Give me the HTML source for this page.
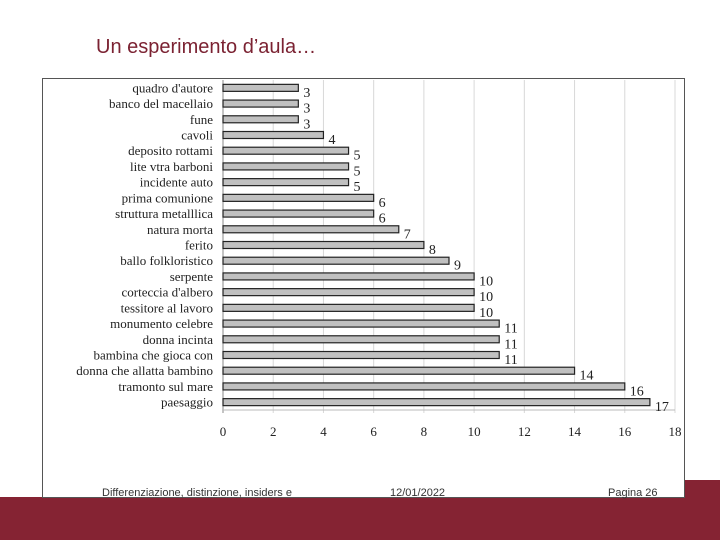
<!DOCTYPE html>
<html><head><meta charset="utf-8"><style>
body{margin:0;width:720px;height:540px;background:#fff;position:relative;overflow:hidden;font-family:"Liberation Serif",serif}
#title{position:absolute;left:96px;top:36px;font-family:"Liberation Sans",sans-serif;font-size:20px;color:#7b2232}
#band{position:absolute;left:0;top:497px;width:720px;height:43px;background:#852333}
#band2{position:absolute;left:684px;top:480px;width:36px;height:20px;background:#852333}
#frame{position:absolute;left:42px;top:78px;width:641px;height:418px;border:1px solid #555;background:#fff}
.ft{position:absolute;top:487px;font-family:"Liberation Sans",sans-serif;font-size:11px;color:#333}
</style></head><body>
<div id="title">Un esperimento d’aula…</div>
<div id="band2"></div>
<div id="band"></div>
<div id="frame"></div>
<svg id="chart" width="720" height="540" style="position:absolute;left:0;top:0"></svg>
<div class="ft" style="left:102px">Differenziazione, distinzione, insiders e</div>
<div class="ft" style="left:390px">12/01/2022</div>
<div class="ft" style="left:608px">Pagina 26</div>
<script>
const categories=["quadro d'autore","banco del macellaio","fune","cavoli","deposito rottami","lite vtra barboni","incidente auto","prima comunione","struttura metalllica","natura morta","ferito","ballo folkloristico","serpente","corteccia d'albero","tessitore al lavoro","monumento celebre","donna incinta","bambina che gioca con","donna che allatta bambino","tramonto sul mare","paesaggio"];
const values=[3,3,3,4,5,5,5,6,6,7,8,9,10,10,10,11,11,11,14,16,17];
const ticks=[0,2,4,6,8,10,12,14,16,18];
const NS="http://www.w3.org/2000/svg";
const svg=document.getElementById('chart');
const x0=223,x1=675,yTop=80,yBot=410;
const xs=v=>x0+(v-18*0)/18*(x1-x0);
const step=(yBot-yTop)/categories.length;
const yc=i=>yTop+step*(i+0.5);
function mk(t,a){const e=document.createElementNS(NS,t);for(const k in a)e.setAttribute(k,a[k]);svg.appendChild(e);return e;}
ticks.forEach(t=>{
 const g=mk('line',{x1:xs(t),x2:xs(t),y1:yTop,y2:yBot+3,stroke:t===0?'#888':'#d8d8d8','stroke-width':1});
 
 
 const l=mk('text',{x:xs(t),y:436,'text-anchor':'middle','font-size':13,fill:'#222'});
 l.textContent=t;
 
 
});
const ax=mk('line',{x1:x0,x2:x1,y1:yBot,y2:yBot,stroke:'#bbb'});


categories.forEach((c,i)=>{
 const y=yc(i);
 const r=mk('rect',{x:x0,y:y-3.5,width:xs(values[i])-x0,height:7,fill:'#c0c0c0',stroke:'#222','stroke-width':1.2});
 
 
 const t=mk('text',{x:213,y:y+4.5,'text-anchor':'end','font-size':13,fill:'#222'});
 t.textContent=c;
 
 
 const v=mk('text',{x:xs(values[i])+5,y:y+9,'font-size':14,fill:'#222'});
 v.textContent=values[i];
 
 
});
</script>
</body></html>
